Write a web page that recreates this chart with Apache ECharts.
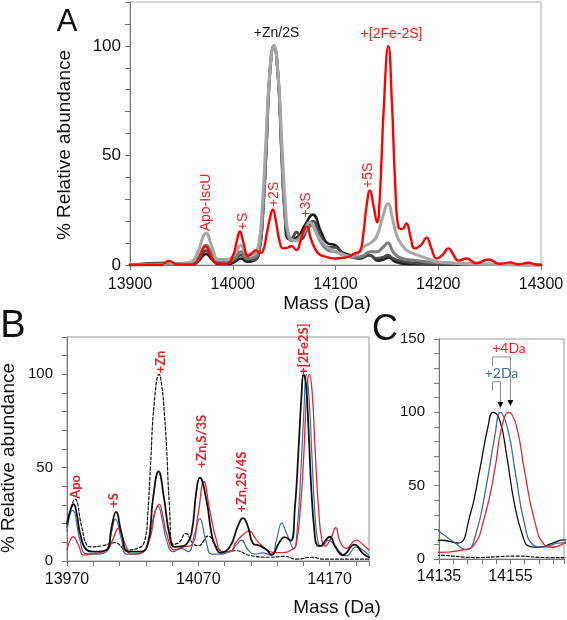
<!DOCTYPE html>
<html><head><meta charset="utf-8">
<script src="https://cdn.jsdelivr.net/npm/echarts@6/dist/echarts.min.js"></script>
<style>html,body{margin:0;padding:0;background:#fff}#c{width:567px;height:620px}</style>
</head><body><div id="c"></div>
<script>
// ---------- Panel A data: [mass (Da), % relative abundance] ----------
const aLightGray = [[13900,0],[13930,0],[13938,1],[13948,0.5],[13960,1.5],[13966,6],[13974,14.5],[13980,8],[13986,2.5],[13995,2.5],[14002,5],[14008,9],[14014,5],[14020,5],[14025,9],[14028.5,25],[14032,54],[14036,88],[14040,100],[14044,88],[14048,54],[14051.5,25],[14055,13],[14062,11],[14068,14],[14075,19.5],[14082,14],[14090,9],[14098,6.5],[14106,5],[14114,4],[14122,5.5],[14128,8.5],[14134,10],[14140,13],[14146,22],[14151,28],[14156,20],[14160,13],[14165,9],[14170,6.5],[14180,4.5],[14189,3],[14198,1.5],[14210,1],[14230,0.5],[14300,0]];
const aMidGray = [[13900,0],[13935,0.5],[13960,1],[13967,4],[13974,9],[13980,5],[13986,1.5],[13995,1.5],[14002,3],[14008,6],[14014,3],[14021,3.5],[14026,8],[14029.5,25],[14032.5,52],[14036,87],[14040,100],[14044,87],[14047.5,52],[14050.5,25],[14054,13],[14058,11],[14064,12],[14070,15],[14077,18],[14085,11],[14092,7],[14100,6],[14108,4.5],[14118,3.5],[14126,4],[14134,6],[14140,6],[14146,8],[14151,10],[14156,6],[14162,3.5],[14170,2.5],[14180,2],[14200,1],[14240,0.5],[14300,0]];
const aDarkGray = [[13900,0],[13935,1],[13945,0.5],[13962,1],[13967,3],[13974,6.5],[13980,3.5],[13986,1],[13996,1],[14002,2.5],[14008,4.5],[14014,2.5],[14021,2.5],[14026,7],[14029.5,25],[14032.5,52],[14036,87],[14040,100],[14044,87],[14047.5,52],[14050.5,25],[14054,13],[14057,12],[14062,15],[14067,12],[14072,16],[14078,20],[14086,12],[14093,8],[14100,8],[14108,5],[14116,3.5],[14124,3],[14133,4.5],[14140,3],[14146,3.5],[14151,4.5],[14156,3],[14162,2],[14175,1],[14200,0.5],[14300,0]];
const aBlack = [[13900,0],[13935,0.5],[13962,0.5],[13967,2],[13974,5],[13980,2.5],[13986,0.5],[13996,0.5],[14002,1.5],[14008,3],[14014,1.5],[14021,2],[14026,7],[14029.5,25],[14032.5,52],[14036,87],[14040,100],[14044,87],[14047.5,52],[14050.5,25],[14054,12],[14058,12],[14064,13],[14070,18],[14078,23],[14086,15],[14092,10],[14100,9],[14106,6],[14114,4.5],[14123,3],[14133,4.5],[14141,2],[14147,2.5],[14152,3.5],[14158,1.5],[14170,0.5],[14300,0]];
const aRed = [[13900,0],[13930,0],[13938,1.8],[13946,0.3],[13960,0.3],[13966,2],[13973.5,8.5],[13979,4],[13984,0.8],[13994,0.5],[14000,4],[14004,11],[14007,15.3],[14010,11],[14015,4.1],[14019,5.5],[14022.5,6.8],[14026,5.5],[14029,6],[14033,14],[14036.5,22],[14039,25.4],[14042,20],[14045.5,11],[14049,7.6],[14053,7.8],[14057,8.7],[14062,6.8],[14066,11],[14069,15.5],[14072,17.5],[14076,12],[14080,7.5],[14084,5],[14090,3.8],[14099,3],[14105,3.2],[14111,3.5],[14119,5.3],[14124,6.5],[14127,14],[14130.5,28],[14133.5,34],[14137,27],[14140.5,19.5],[14143,30],[14147,72],[14151.4,100],[14155,73],[14158,38],[14161.5,17],[14165,16.5],[14169,19],[14173,13],[14177,7.6],[14183,9],[14188.7,12.5],[14193,8],[14198.5,3],[14204,4.5],[14209.8,7.6],[14215,4.5],[14219.5,2],[14227.7,3],[14237,0.8],[14248.7,2.5],[14260,0.5],[14270,1.2],[14278,0.3],[14287.6,1],[14295,0.2],[14300,0]];

// ---------- Panels B and C data (C is a zoom of B) ----------
const bBlack = [[13970,20],[13972.5,27],[13975,30.4],[13977.5,25],[13980,14.7],[13985,5.9],[13990,5],[14000,5.9],[14004,18.3],[14007.3,26.3],[14011.6,14.7],[14016.6,5],[14024,5],[14031,7.6],[14035.6,34],[14039.7,48],[14043.8,34],[14048.3,13],[14052,7.6],[14058,8],[14061,9],[14064.8,14.7],[14068.6,37.8],[14071.1,44.6],[14076.2,32.5],[14080,15],[14083,8],[14087,4.4],[14094,7.6],[14100.3,19],[14104,23],[14107.9,18.3],[14111.7,9.4],[14116.8,8.2],[14122,6],[14125.7,3.4],[14132,10.3],[14135.8,12.8],[14140.3,10.9],[14143.6,29],[14146.4,60.7],[14148.7,90],[14150.1,100],[14152,94.8],[14154,69.8],[14156.1,38],[14158.5,15.4],[14160.3,8.6],[14163,8],[14166.8,10.9],[14170,13],[14175,6.8],[14180,3.2],[14189,8.8],[14195.3,4.1],[14200,2]];
const bBlue = [[13970,16],[13974.3,27.2],[13979.9,11.2],[13983.7,4.1],[13990,3.7],[14000,5],[14004,15.6],[14006.8,22.4],[14011.6,11.2],[14015.4,3.7],[14024,3.7],[14031.8,9.4],[14036,24],[14039.4,29.3],[14042.5,22],[14045.8,11.2],[14050.8,5],[14057.2,6.8],[14062.3,5],[14067.3,14.7],[14071.1,22.7],[14075.7,11.2],[14080,3.7],[14084,3.7],[14094,5],[14099.5,9],[14102.8,11.2],[14107.9,5.9],[14113,3.7],[14119.3,4.4],[14125.7,3],[14129.5,11.2],[14133.7,20.4],[14136,17],[14138.9,12],[14142.7,6.3],[14145.4,17.7],[14148.2,49.4],[14150.6,83.4],[14152.2,100],[14154.3,88],[14156.4,58.5],[14158.9,24.5],[14161.3,9.7],[14163.9,8],[14169,11],[14177.6,5],[14182.7,2.7],[14190.3,7.6],[14195,6],[14200,3]];
const bRed = [[13970,5.9],[13974.8,13],[13979,8],[13982.4,3.2],[13988,3.7],[14000.2,5.9],[14005.2,12],[14009,17.4],[14014.1,9.4],[14019.2,3.7],[14026,4.4],[14033,12],[14037,26],[14040.2,30.4],[14043,24],[14045.8,14.7],[14052,5.9],[14058.4,7.6],[14064.8,8.5],[14069.9,25.4],[14074.2,42.6],[14078.7,27.2],[14083.8,11.2],[14088,5],[14094,5],[14099,10.3],[14104,14],[14108.6,16],[14114.3,11.2],[14119.3,7.6],[14124.4,5],[14130,4.5],[14135,4.5],[14141.7,6.3],[14144.5,8.6],[14147.8,29],[14150.6,60.7],[14152.4,88],[14154.5,100],[14156.6,91.4],[14158.9,60.7],[14161.7,26.7],[14164.5,9.7],[14166.8,8],[14168.5,9],[14171.5,13],[14174.6,17.8],[14178,10.3],[14182.7,6.8],[14190.3,11.2],[14195,9],[14200,5.9]];
const bDashed = [[13970,18],[13973,28],[13976,33.2],[13981.2,18.3],[13985,8.5],[13988,7.6],[13997,8.2],[14006.5,9.8],[14015.4,5.9],[14024,6.8],[14029.3,11.2],[14031.5,25],[14033.5,50],[14036.5,85],[14040.2,100],[14042.5,92],[14043.5,85],[14045.5,65],[14048,30],[14050.8,9],[14055,9.8],[14060.5,14.7],[14066,9.4],[14070,8.2],[14077.5,13.3],[14084,7.6],[14090,5],[14099,5.5],[14109,3],[14125,2],[14135,2.5],[14145,1],[14157,2],[14165,1],[14200,1]];

// ---------- annotation texts, anchored in data coordinates ----------
const aLabels = [
  {t:'+Zn/2S', m:14042.6, v:105.9, c:'#111', r:0},
  {t:'+[2Fe-2S]', m:14154.5, v:105.5, c:'#ff1a1a', r:0},
  {t:'Apo-IscU', m:13974, v:28.5, c:'#ff1a1a', r:90},
  {t:'+S', m:14010.5, v:19.9, c:'#ff1a1a', r:90},
  {t:'+2S', m:14040.6, v:32.2, c:'#ff1a1a', r:90},
  {t:'+3S', m:14071.3, v:27.4, c:'#ff1a1a', r:90},
  {t:'+5S', m:14132, v:40.9, c:'#ff1a1a', r:90}
];
const bLabels = [
  {t:'Apo', m:13976.7, v:39.7},
  {t:'+S', m:14005.7, v:32.5},
  {t:'+Zn', m:14041.1, v:106.6},
  {t:'+Zn,S/3S', m:14072.4, v:64},
  {t:'+Zn,2S/4S', m:14103, v:42.3},
  {t:'+[2Fe2S]', m:14150.6, v:113.5}
];

const FONT = "'Liberation Sans', Arial, sans-serif";
function mk(name, data, gi, color, width, dash) {
  return {name, type:'line', xAxisIndex:gi, yAxisIndex:gi, data, showSymbol:false, symbol:'none',
    smooth:0.5, silent:true, clip:true,
    lineStyle:{color, width, type: dash ? [3,2] : 'solid', join:'round', cap:'round'}};
}
function xAx(gi, min, max, interval, every, margin) {
  return {type:'value', gridIndex:gi, min, max, interval,
    axisLine:{show:true, onZero:false, lineStyle:{color:'#777', width:1}},
    axisTick:{show:true, inside:false, length:5, lineStyle:{color:'#777'}},
    axisLabel:{fontSize:16, color:'#111', fontFamily:FONT, margin,
      formatter: v => (Math.abs((v-min)%every) < 1e-6 ? String(v) : '')},
    splitLine:{show:false}};
}
function yAx(gi, max, fs, margin) {
  return {type:'value', gridIndex:gi, min:0, max, interval:10,
    axisLine:{show:true, lineStyle:{color:'#777', width:1}},
    axisTick:{show:true, inside:false, length:5, lineStyle:{color:'#777'}},
    axisLabel:{fontSize:fs, color:'#111', fontFamily:FONT, margin,
      formatter: v => (v % 50 === 0 ? String(v) : '')},
    splitLine:{show:false}};
}

const option = {
  animation:false,
  backgroundColor:'#fff',
  grid:[
    {left:130, top:2, width:411, height:263, show:true, borderColor:'#aaa', borderWidth:1},
    {left:67, top:337, width:302, height:224, show:true, borderColor:'#999', borderWidth:1},
    {left:439, top:339, width:125, height:220, show:true, borderColor:'#999', borderWidth:1}
  ],
  xAxis:[xAx(0,13900,14300,100,100,12), xAx(1,13970,14200,20,100,11), xAx(2,14135,14170,4,20,10)],
  yAxis:[yAx(0,120,17,9), yAx(1,120,15,14), yAx(2,150,15,14)],
  series:[
    mk('A black', aBlack, 0, '#1c1c1c', 2.6),
    mk('A dark gray', aDarkGray, 0, '#4a4a4a', 2.8),
    mk('A mid gray', aMidGray, 0, '#7c7c7c', 3),
    mk('A light gray', aLightGray, 0, '#a6a6a6', 3),
    mk('A red', aRed, 0, '#ff0000', 2.4),
    mk('B dashed', bDashed, 1, '#111', 1.2, true),
    mk('B blue', bBlue, 1, '#3d6aa9', 1.2),
    mk('B red', bRed, 1, '#e8262b', 1.3),
    mk('B black', bBlack, 1, '#111', 1.8),
    mk('C dashed', bDashed, 2, '#111', 1.2, true),
    mk('C black', bBlack, 2, '#111', 1.3),
    mk('C blue', bBlue, 2, '#3d6aa9', 1.3),
    mk('C red', bRed, 2, '#e8262b', 1.3)
  ]
};

const chart = echarts.init(document.getElementById('c'), null, {renderer:'canvas'});
chart.setOption(option);

function P(g, m, v) { return chart.convertToPixel({gridIndex:g}, [m, v]); }
const g = [];
function txt(x, y, text, opt) {
  g.push(Object.assign({type:'text', x, y, silent:true, z:100,
    style:Object.assign({text, align:'center', verticalAlign:'middle', fill:'#111', font:'16px '+FONT}, opt.style||{})},
    opt.rot ? {rotation: opt.rot*Math.PI/180} : {}));
}
// panel letters and axis titles
txt(67, 22, 'A', {style:{font:'31px '+FONT}});
txt(13, 327, 'B', {style:{font:'38px '+FONT}});
txt(385, 330, 'C', {style:{font:'36px '+FONT}});
txt(65, 145, '% Relative abundance', {rot:90, style:{font:'19px '+FONT}});
txt(327, 304, 'Mass (Da)', {style:{font:'19px '+FONT}});
txt(9, 458, '% Relative abundance', {rot:90, style:{font:'19px '+FONT}});
txt(337, 608, 'Mass (Da)', {style:{font:'19px '+FONT}});
// panel A peak labels
aLabels.forEach(l => { const p = P(0, l.m, l.v); txt(p[0], p[1], l.t, {rot:l.r, style:{fill:l.c, font:'14px '+FONT}}); });
// panel B peak labels
bLabels.forEach(l => { const p = P(1, l.m, l.v); txt(p[0], p[1], l.t, {rot:90, style:{fill:'#ee1c25', font:"bold 13px Lato, 'Open Sans', sans-serif"}}); });
// panel C shift annotations
function seg(a, b, color) {
  g.push({type:'line', silent:true, z:100, shape:{x1:a[0], y1:a[1], x2:b[0], y2:b[1]}, style:{stroke:color, lineWidth:1}});
}
function arrow(tip) {
  g.push({type:'polygon', silent:true, z:101, shape:{points:[[tip[0]-3, tip[1]-6],[tip[0]+3, tip[1]-6],[tip[0], tip[1]]]}, style:{fill:'#111'}});
}
const c4a = P(2,14150,131.5), c4b = P(2,14150,137.8), c4c = P(2,14155,137.8), c4d = P(2,14155,104.3);
seg(c4a, c4b, '#8c8c8c'); seg(c4b, c4c, '#8c8c8c'); seg(c4c, [c4d[0], c4d[1]-5], '#8c8c8c'); arrow(c4d);
const c2a = P(2,14150,114.7), c2b = P(2,14150,120.8), c2c = P(2,14152.2,120.8), c2d = P(2,14152.2,103);
seg(c2a, c2b, '#8c8c8c'); seg(c2b, c2c, '#8c8c8c'); seg(c2c, [c2d[0], c2d[1]-5], '#8c8c8c'); arrow(c2d);
const t4 = P(2,14154.6,143.2), t2 = P(2,14152.5,126.7);
txt(t4[0], t4[1], '+4Da', {style:{fill:'#ee1c25', font:"14px Lato, 'Open Sans', sans-serif"}});
txt(t2[0], t2[1], '+2Da', {style:{fill:'#3d6aa9', font:"14px Lato, 'Open Sans', sans-serif"}});

chart.setOption({graphic:g});
</script></body></html>
